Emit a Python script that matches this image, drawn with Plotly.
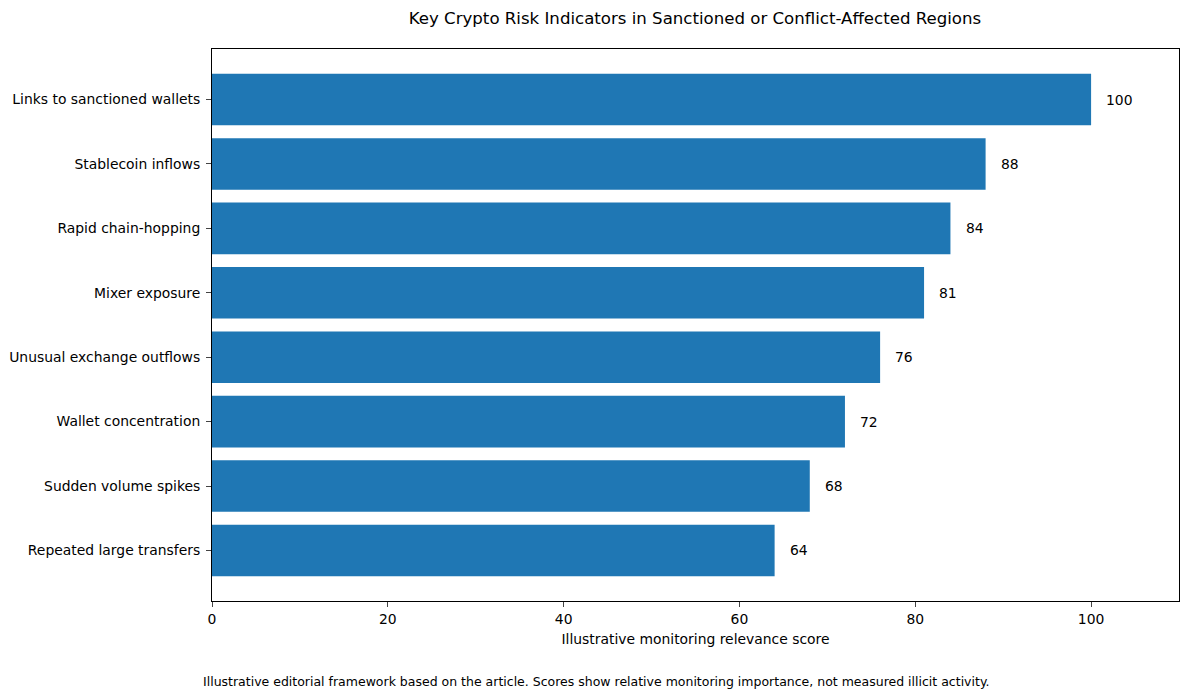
import plotly.graph_objects as go

# Risk indicators (top to bottom in the chart)
indicators = [
    "Links to sanctioned wallets",
    "Stablecoin inflows",
    "Rapid chain-hopping",
    "Mixer exposure",
    "Unusual exchange outflows",
    "Wallet concentration",
    "Sudden volume spikes",
    "Repeated large transfers",
]
scores = [100, 88, 84, 81, 76, 72, 68, 64]
x_ticks = [0, 20, 40, 60, 80, 100]

# plot bottom-up like matplotlib barh
ys = list(reversed(indicators))
xs = list(reversed(scores))

fig = go.Figure(
    go.Bar(
        x=xs,
        y=ys,
        orientation="h",
        width=0.8,
        marker=dict(color="#1f77b4", line=dict(width=0)),
        hoverinfo="x+y",
    )
)

# value labels just right of each bar
for name, val in zip(ys, xs):
    fig.add_annotation(
        x=val + 1.5, y=name, text=str(val),
        xanchor="left", showarrow=False,
        font=dict(size=13.9, color="black"),
    )

fig.add_annotation(
    text="Illustrative editorial framework based on the article. "
         "Scores show relative monitoring importance, not measured illicit activity.",
    xref="paper", yref="paper", x=0.397, y=-0.145,
    xanchor="center", yanchor="middle", showarrow=False,
    font=dict(size=12.5, color="black"),
)

fig.update_layout(
    width=1189, height=697,
    margin=dict(l=210, r=9, t=49, b=96),
    paper_bgcolor="white", plot_bgcolor="white",
    font=dict(family="DejaVu Sans", size=13.9, color="black"),
    title=dict(
        text="Key Crypto Risk Indicators in Sanctioned or Conflict-Affected Regions",
        x=0.5845, xanchor="center", y=0.974, yanchor="middle",
        font=dict(size=16.6),
    ),
    showlegend=False,
    xaxis=dict(
        range=[0, 110], tickvals=x_ticks, ticks="outside", ticklen=5,
        showgrid=False, zeroline=False, showline=True, linecolor="black",
        linewidth=1, mirror=True,
        title=dict(text="Illustrative monitoring relevance score", standoff=8,
                   font=dict(size=13.9)),
    ),
    yaxis=dict(
        range=[-0.785, 7.785], ticks="outside", ticklen=5,
        ticklabelstandoff=3,
        showgrid=False, zeroline=False, showline=True, linecolor="black",
        linewidth=1, mirror=True,
    ),
)

# drop the default page margin so the figure sits at the window origin
fig.write_html(
    "out.html",
    config={"displayModeBar": False},
    post_script="document.body.style.margin='0px';",
)
